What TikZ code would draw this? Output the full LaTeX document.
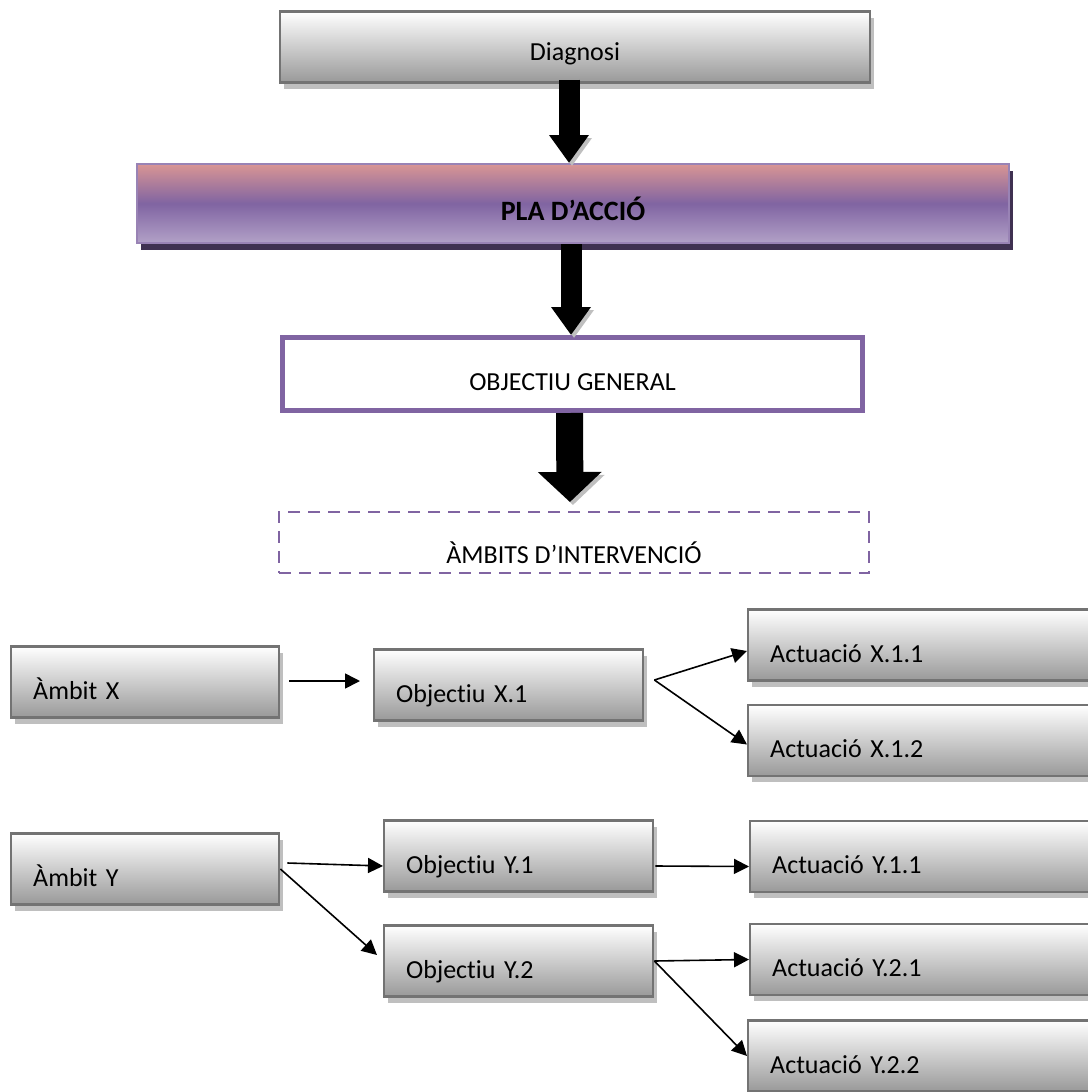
\documentclass[tikz,border=0pt]{standalone}
\usepackage{fontspec}
\setmainfont{Carlito}[Ligatures=NoCommon]
\usepackage{tikz}
\usetikzlibrary{positioning}
\usetikzlibrary{shadows}
\usetikzlibrary{arrows.meta}

\definecolor{lilac}{HTML}{8064A2}
\definecolor{rose}{HTML}{D99594}
\definecolor{lavender}{HTML}{B2A1C7}
\definecolor{plum}{HTML}{3F3151}

\tikzset{
  greybox/.style={draw=black!55, line width=1.2pt, top color=white, bottom color=black!40,
    drop shadow={shadow xshift=2pt, shadow yshift=-3pt, fill=black!25, opacity=1},
    minimum height=35.5pt, inner sep=0pt, text depth=0pt,
    font=\fontsize{13pt}{15pt}\selectfont},
  stepbox/.style={greybox, anchor=west, inner xsep=11pt, align=left,
    text width=#1, text height=17pt},
  bigarrow/.style={line width=10.5pt, -{Triangle[width=19pt,length=14pt]},
    preaction={draw=black!25, transform canvas={shift={(1.5pt,-1.5pt)}}}},
  flow/.style={line width=0.8pt, -{Triangle[width=7.5pt,length=7.5pt]}}
}

\begin{document}
\begin{tikzpicture}[x=0.5pt, y=-0.5pt]
  \useasboundingbox (0,0) rectangle (1087,1092);

  % upper column
  \node[greybox, minimum width=295pt, text height=13.5pt] (diag) at (575,47) {Diagnosi};
  \node[draw=lilac!80!white, line width=1pt, top color=rose, bottom color=lavender, middle color=lilac,
    drop shadow={shadow xshift=2pt, shadow yshift=-3.5pt, fill=plum, opacity=1},
    minimum width=436pt, minimum height=39.5pt, text height=16.5pt, text depth=0pt,
    font=\fontsize{14pt}{16pt}\selectfont\bfseries] (pla) at (573,203.5) {PLA D’ACCIÓ};
  \node[draw=lilac, line width=2.5pt, fill=white, minimum width=290pt, minimum height=36.5pt,
    text height=16.5pt, text depth=0pt, font=\fontsize{13pt}{15pt}\selectfont] (objg) at (572.5,374) {OBJECTIU GENERAL};
  \node[draw=lilac, line width=1pt, dash pattern=on 6pt off 4pt, minimum width=295pt, minimum height=30.5pt,
    text height=21pt, text depth=0pt, font=\fontsize{13pt}{15pt}\selectfont] (amb) at (574,542.5) {ÀMBITS D’INTERVENCIÓ};

  \draw[bigarrow] ([xshift=-3pt,yshift=2pt]diag.south) -- ([xshift=-2pt]pla.north);
  \draw[bigarrow] ([xshift=-1pt]pla.south) -- ([xshift=-0.75pt]objg.north);
  \draw[bigarrow, line width=13.5pt, -{Triangle[width=31pt,length=15pt]}, shorten >=4.5pt]
    ([xshift=-1.5pt]objg.south) -- ([xshift=-2pt]amb.north);

  % ambit X
  \node[stepbox=112pt] (ambx) at (10,682) {Àmbit X};
  \node[stepbox=112.5pt] (objx1) at (373,685) {Objectiu X.1};
  \node[stepbox=152pt] (actx11) at (747,645) {Actuació X.1.1};
  \node[stepbox=152pt] (actx12) at (747,740.5) {Actuació X.1.2};

  \path[flow] ([xshift=4.5pt,yshift=0.5pt]ambx.east) edge ([xshift=-6.5pt,yshift=2pt]objx1.west);
  \path[flow] ([xshift=5pt,yshift=2.5pt]objx1.east) edge ([yshift=-3pt]actx11.west)
    edge ([yshift=-2pt]actx12.west);

  % ambit Y
  \node[stepbox=112pt] (amby) at (10,869) {Àmbit Y};
  \node[stepbox=112.5pt] (objy1) at (383,856) {Objectiu Y.1};
  \node[stepbox=112.5pt] (objy2) at (383,961) {Objectiu Y.2};
  \node[stepbox=152pt] (acty11) at (749,856.5) {Actuació Y.1.1};
  \node[stepbox=152pt] (acty21) at (749,959.5) {Actuació Y.2.1};
  \node[stepbox=152pt] (acty22) at (747,1056) {Actuació Y.2.2};

  \path[flow] ([xshift=3.5pt,yshift=3pt]amby.east) edge ([yshift=-5pt]objy1.west);
  \path[flow] (amby.east) edge ([xshift=-3pt,yshift=3pt]objy2.west);
  \path[flow] ([xshift=0.5pt,yshift=-5pt]objy1.east) edge ([yshift=-5pt]acty11.west);
  \path[flow] (objy2.east) edge (acty21.west) edge (acty22.west);
\end{tikzpicture}
\end{document}
